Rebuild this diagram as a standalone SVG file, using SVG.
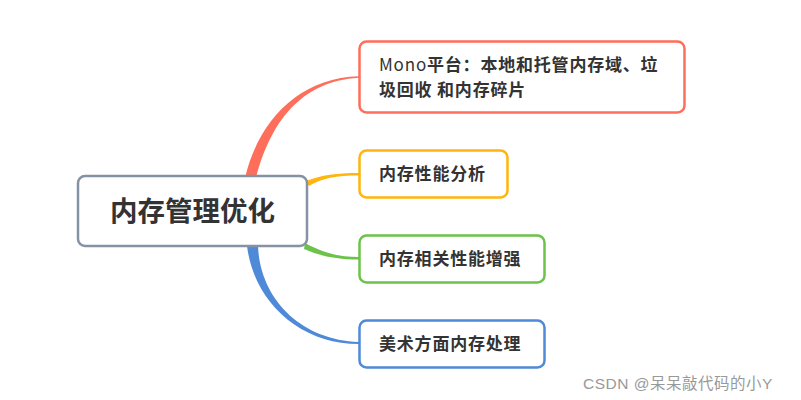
<svg xmlns="http://www.w3.org/2000/svg" width="801" height="400" viewBox="0 0 801 400">
<style>
.box{fill:#fff;stroke-width:2.5}
.t{font-family:"Noto Sans CJK SC","Microsoft YaHei",sans-serif;font-weight:bold;fill:#333;font-size:17px;letter-spacing:0.8px}
.root{font-size:27.5px;letter-spacing:0}
.wm{font-family:"Liberation Sans","Noto Sans CJK SC",sans-serif;fill:#999;font-size:15.5px;letter-spacing:0.5px}
</style>
<rect width="801" height="400" fill="#fff"/>
<g id="connectors">
<path d="M245,178 C258,122 298,78 359,76.3 L359,77.8 C300,81 270,124 256,178 Z" fill="#ff6e5a"/>
<path d="M306,181 C322,175 336,173 359,173 L359,175.5 C336,175.5 322,178 309,186 Z" fill="#ffb50d"/>
<path d="M305,243 C322,252 336,257 359,257 L359,259.5 C336,259.5 320,256 304,249 Z" fill="#6cc24a"/>
<path d="M247,246 C254,302 300,344 359,344 L359,342 C300,340 260,298 258,246 Z" fill="#4f8ad8"/>
</g>
<g id="root">
<rect class="box" x="78" y="176" width="229" height="70" rx="7" stroke="#8592a6" stroke-width="3"/>
<text class="t root" x="192.5" y="221" text-anchor="middle">内存管理优化</text>
</g>
<g id="n1">
<rect class="box" x="359.5" y="41.5" width="325" height="71" rx="7" stroke="#ff6e5a"/>
<text class="t" x="379" y="71"><tspan font-weight="normal">Mono</tspan>平台：本地和托管内存域、垃</text>
<text class="t" x="379" y="96">圾回收 和内存碎片</text>
</g>
<g id="n2">
<rect class="box" x="359.5" y="150.5" width="148" height="47" rx="7" stroke="#ffb50d"/>
<text class="t" x="379" y="180">内存性能分析</text>
</g>
<g id="n3">
<rect class="box" x="359.5" y="235.5" width="185" height="47" rx="7" stroke="#6cc24a"/>
<text class="t" x="379" y="265">内存相关性能增强</text>
</g>
<g id="n4">
<rect class="box" x="359.5" y="320.5" width="185" height="47" rx="7" stroke="#4f8ad8"/>
<text class="t" x="379" y="350">美术方面内存处理</text>
</g>
<text class="wm" x="583" y="389">CSDN @呆呆敲代码的小Y</text>
</svg>
